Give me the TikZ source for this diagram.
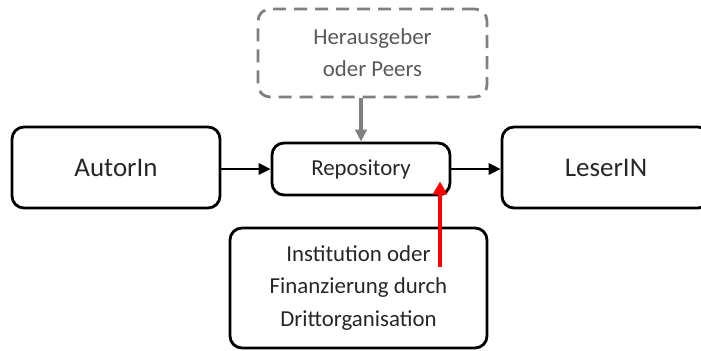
\documentclass[tikz,border=0pt]{standalone}
\usepackage{fontspec}
\setmainfont{Carlito}
\usetikzlibrary{arrows.meta}

\begin{document}
\begin{tikzpicture}[
  box/.style={draw,rectangle,rounded corners=0.36cm,line width=2.4pt,text=black!85},
  big/.style={font=\fontsize{23}{28}\selectfont},
  small/.style={font=\fontsize{19.5}{27.5}\selectfont,align=center},
  tip/.style={line width=2pt,-{Triangle[length=0.36cm,width=0.34cm]}}]
\useasboundingbox (0,0) rectangle (21.03,-10.5);

\node[box,big,minimum width=6.24cm,minimum height=2.43cm] (A) at (3.48,-5.025) {AutorIn};
\node[box,small,minimum width=5.34cm,minimum height=1.56cm] (R) at (10.83,-5.07) {Repository};
\node[box,big,minimum width=6.24cm,minimum height=2.43cm] (L) at (18.18,-5.025) {LeserIN};
\node[box,small,draw=black!50,text=black!65,dash pattern=on 0.39cm off 0.24cm,
  minimum width=6.87cm,minimum height=2.64cm] (H) at (11.175,-1.59) {Herausgeber\\oder Peers};
\node[box,small,minimum width=7.71cm,minimum height=3.6cm] (I) at (10.755,-8.64)
  {Institution oder\\Finanzierung durch\\Drittorganisation};

\coordinate (F) at (13.2,-8.01);

\draw[tip] (A.east |- R.west) -- (R.west);
\draw[tip] (R.east) -- (R.east -| L.west);
\draw[tip,line width=2.6pt,draw=black!50,fill=black!50] (R.north |- H.south) -- (R.north);
\draw[red,line width=3.4pt,-{Triangle[length=0.4cm,width=0.42cm]}] (F) -- ([yshift=0.45cm]F |- R.south);
\end{tikzpicture}
\end{document}
